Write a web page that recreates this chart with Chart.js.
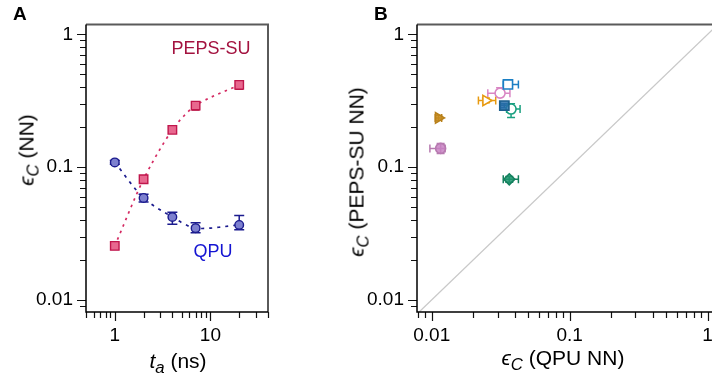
<!DOCTYPE html>
<html><head><meta charset="utf-8">
<script src="https://cdn.jsdelivr.net/npm/chart.js@4.4.0/dist/chart.umd.min.js"></script>
<style>
html,body{margin:0;padding:0;background:#fff;overflow:hidden;width:712px;height:381px;}
#wrap{position:relative;width:712px;height:381px;overflow:hidden;font-family:"Liberation Sans",Arial,Helvetica,sans-serif;}
#cA{position:absolute;left:0;top:0;}
#cB{position:absolute;left:356px;top:0;}
.t{position:absolute;white-space:nowrap;color:#000;line-height:1;}
.ttl{font-size:21px;}
.ttl sub{font-size:0.8em;vertical-align:-0.32em;line-height:0;}
.rot{transform:translate(-50%,-50%) rotate(-90deg);}
.hor{transform:translate(-50%,-50%);}
.letter{font-weight:bold;font-size:19px;}
.lab{font-size:18px;transform:translate(-50%,-50%);}
</style>
</head><body>
<div id="wrap">
<canvas id="cA" width="356" height="381"></canvas>
<canvas id="cB" width="380" height="381"></canvas>
<div class="t letter" style="left:13px;top:4px;">A</div>
<div class="t letter" style="left:374px;top:4px;">B</div>
<div class="t ttl rot" style="left:26px;top:150px;"><i>ϵ</i><sub><i>C</i></sub> (NN)</div>
<div class="t ttl hor" style="left:178px;top:360px;"><i>t</i><sub><i>a</i></sub> (ns)</div>
<div class="t ttl rot" style="left:356px;top:172px;"><i>ϵ</i><sub><i>C</i></sub> (PEPS-SU NN)</div>
<div class="t ttl hor" style="left:563px;top:357px;"><i>ϵ</i><sub><i>C</i></sub> (QPU NN)</div>
<div class="t lab" style="left:211px;top:48px;color:#a3123f;">PEPS-SU</div>
<div class="t lab" style="left:213px;top:251px;color:#1414d2;">QPU</div>
</div>
<script>
// ---------- Panel A data ----------
const durationsNs = [1, 2, 4, 7, 20];
const pepsSu = [0.0255, 0.081, 0.191, 0.291, 0.417];
const pepsSuLo = [0.0250, 0.079, 0.184, 0.270, 0.386];
const pepsSuHi = [0.0260, 0.083, 0.197, 0.300, 0.430];
const qpu = [0.1086, 0.0586, 0.0421, 0.0347, 0.0367];
const qpuLo = [0.1050, 0.0545, 0.0371, 0.0320, 0.0337];
const qpuHi = [0.1120, 0.0626, 0.0458, 0.0381, 0.0432];
const axisAXTicks = [1, 10];
const axisAXLabels = ['1', '10'];
const axisYTicks = [0.01, 0.1, 1];
const axisYLabels = ['0.01', '0.1', '1'];
// ---------- Panel B data ----------
const cmpQpu   = [0.0357, 0.0313, 0.0247, 0.0336, 0.0376, 0.0112, 0.0116, 0.0365];
const cmpQpuLo = [0.0330, 0.0255, 0.0218, 0.0315, 0.0349, 0.0106, 0.0097, 0.0330];
const cmpQpuHi = [0.0425, 0.0369, 0.0291, 0.0360, 0.0437, 0.0118, 0.0125, 0.0425];
const cmpPeps   = [0.420, 0.361, 0.318, 0.291, 0.274, 0.235, 0.1384, 0.081];
const cmpPepsLo = [0.400, 0.341, 0.305, 0.280, 0.237, 0.226, 0.1267, 0.077];
const cmpPepsHi = [0.440, 0.396, 0.332, 0.300, 0.301, 0.245, 0.1510, 0.085];
const diagonal = [0.001, 10];
const axisBXTicks = [0.01, 0.1, 1];
const axisBXLabels = ['0.01', '0.1', '1'];

// styles for panel B points
const bStyles = [
  {shape:'rect', color:'#1a7fc4', fill:'#ffffff', r:6.5},
  {shape:'circle', color:'#d986c4', fill:'#ffffff', r:5},
  {shape:'triangle', rot:90, color:'#e89a10', fill:'#ffffff', r:6},
  {shape:'rect', color:'#1d5f8e', fill:'rgba(40,110,170,0.85)', r:6.5},
  {shape:'circle', color:'#1aa080', fill:'#ffffff', r:5},
  {shape:'triangle', rot:90, color:'#b8801a', fill:'rgba(200,140,30,0.8)', r:6},
  {shape:'circle', color:'#b77ab0', fill:'rgba(200,130,195,0.85)', r:5},
  {shape:'rectRot', color:'#14805e', fill:'rgba(30,150,110,0.85)', r:5.5}
];

const FONT = {family:'"Liberation Sans", Arial, Helvetica, sans-serif', size:19};

function minorValues(min, max) {
  const out = [];
  for (let d = Math.floor(Math.log10(min)) - 1; d <= Math.ceil(Math.log10(max)) + 1; d++) {
    for (let m = 1; m <= 9; m++) {
      const v = m * Math.pow(10, d);
      if (v >= min * 0.9999 && v <= max * 1.0001) out.push({v, major: m === 1});
    }
  }
  return out;
}

const decoPlugin = {
  id: 'deco',
  beforeDatasetsDraw(chart) {
    const ctx = chart.ctx;
    const xs = chart.scales.x, ys = chart.scales.y;
    chart.data.datasets.forEach((ds, i) => {
      if (!ds.errs) return;
      const meta = chart.getDatasetMeta(i);
      ctx.save();
      ctx.strokeStyle = ds.errColor || ds.borderColor;
      ctx.lineWidth = 1.5;
      ctx.setLineDash([]);
      meta.data.forEach((pt, j) => {
        const e = ds.errs[j];
        if (!e) return;
        const cap = ds.capHalf || 4.5;
        ctx.beginPath();
        if (e.yLo != null) {
          const y1 = ys.getPixelForValue(e.yLo), y2 = ys.getPixelForValue(e.yHi);
          ctx.moveTo(pt.x, y1); ctx.lineTo(pt.x, y2);
          ctx.moveTo(pt.x - cap, y1); ctx.lineTo(pt.x + cap, y1);
          ctx.moveTo(pt.x - cap, y2); ctx.lineTo(pt.x + cap, y2);
        }
        if (e.xLo != null) {
          const x1 = xs.getPixelForValue(e.xLo), x2 = xs.getPixelForValue(e.xHi);
          ctx.moveTo(x1, pt.y); ctx.lineTo(x2, pt.y);
          ctx.moveTo(x1, pt.y - cap); ctx.lineTo(x1, pt.y + cap);
          ctx.moveTo(x2, pt.y - cap); ctx.lineTo(x2, pt.y + cap);
        }
        ctx.stroke();
      });
      ctx.restore();
    });
  },
  afterDraw(chart) {
    const ctx = chart.ctx, a = chart.chartArea;
    const xs = chart.scales.x, ys = chart.scales.y;
    ctx.save();
    ctx.setLineDash([]);
    // top & right frame
    ctx.strokeStyle = '#5a5a5a';
    ctx.lineWidth = 2;
    ctx.beginPath();
    ctx.moveTo(a.left, a.top); ctx.lineTo(a.right, a.top); ctx.lineTo(a.right, a.bottom);
    ctx.stroke();
    // ticks
    ctx.strokeStyle = '#111';
    ctx.lineWidth = 1.2;
    ctx.beginPath();
    minorValues(xs.min, xs.max).forEach(t => {
      const p = Math.round(xs.getPixelForValue(t.v)) + 0.5;
      ctx.moveTo(p, a.bottom); ctx.lineTo(p, a.bottom + (t.major ? 9 : 6));
    });
    minorValues(ys.min, ys.max).forEach(t => {
      const p = Math.round(ys.getPixelForValue(t.v)) + 0.5;
      ctx.moveTo(a.left, p); ctx.lineTo(a.left - (t.major ? 9 : 6), p);
    });
    ctx.stroke();
    // left & bottom axes
    ctx.strokeStyle = '#000';
    ctx.lineWidth = 1.5;
    ctx.beginPath();
    ctx.moveTo(a.left, a.top); ctx.lineTo(a.left, a.bottom); ctx.lineTo(a.right, a.bottom);
    ctx.stroke();
    ctx.restore();
  }
};

function logAxis(min, max, ticks, labels, isY, fitSize, pad) {
  return {
    type: 'logarithmic', min, max,
    border: {display: false},
    grid: {display: false, drawTicks: false},
    ticks: {
      font: FONT, color: '#000', padding: pad, autoSkip: false, maxRotation: 0,
      callback: (v, i) => labels[i]
    },
    afterBuildTicks: s => { s.ticks = ticks.map(v => ({value: v})); },
    afterFit: s => { if (isY) s.width = fitSize; else s.height = fitSize; }
  };
}

// ---------- Chart A ----------
new Chart(document.getElementById('cA'), {
  type: 'line',
  data: {
    datasets: [
      {
        label: 'PEPS-SU',
        data: durationsNs.map((x, i) => ({x, y: pepsSu[i]})),
        errs: durationsNs.map((x, i) => ({yLo: pepsSuLo[i], yHi: pepsSuHi[i]})),
        borderColor: '#d42a62', backgroundColor: '#e8668e', errColor: '#b3143f',
        pointBorderColor: '#c0164c', pointBackgroundColor: '#e8688f',
        borderWidth: 1.7, borderDash: [2.5, 4.5], tension: 0.3,
        pointStyle: 'rect', pointRadius: 6, pointBorderWidth: 1.4, capHalf: 4
      },
      {
        label: 'QPU',
        data: durationsNs.map((x, i) => ({x, y: qpu[i]})),
        errs: durationsNs.map((x, i) => ({yLo: qpuLo[i], yHi: qpuHi[i]})),
        borderColor: '#1b1b8e', backgroundColor: '#7d80cf',
        pointBorderColor: '#1b1b8e', pointBackgroundColor: '#7d80cf',
        borderWidth: 1.7, borderDash: [3, 5], tension: 0.3,
        pointStyle: 'circle', pointRadius: 4.3, pointBorderWidth: 1.4, capHalf: 5
      }
    ]
  },
  options: {
    responsive: false, animation: false,
    layout: {padding: {left: 0, top: 10, right: 88, bottom: 0}},
    plugins: {legend: {display: false}, tooltip: {enabled: false}},
    scales: {
      x: logAxis(0.5, 40, axisAXTicks, axisAXLabels, false, 69, 12),
      y: logAxis(0.0081, 1.19, axisYTicks, axisYLabels, true, 86, 13)
    }
  },
  plugins: [decoPlugin]
});

// ---------- Chart B ----------
const bSets = cmpQpu.map((x, i) => {
  const s = bStyles[i];
  return {
    type: 'scatter',
    data: [{x, y: cmpPeps[i]}],
    errs: [{xLo: cmpQpuLo[i], xHi: cmpQpuHi[i], yLo: cmpPepsLo[i], yHi: cmpPepsHi[i]}],
    borderColor: s.color, backgroundColor: s.fill,
    pointStyle: s.shape, rotation: s.rot || 0, pointRadius: s.r, pointBorderWidth: 1.6,
    capHalf: 4
  };
});
bSets.unshift({
  type: 'line',
  data: diagonal.map(v => ({x: v, y: v})),
  borderColor: '#c9c9c9', borderWidth: 1.3, pointRadius: 0, tension: 0
});
new Chart(document.getElementById('cB'), {
  type: 'scatter',
  data: {datasets: bSets},
  options: {
    responsive: false, animation: false,
    layout: {padding: {left: 0, top: 10, right: 18, bottom: 0}},
    plugins: {legend: {display: false}, tooltip: {enabled: false}},
    scales: {
      x: logAxis(0.00782, 1.19, axisBXTicks, axisBXLabels, false, 69, 12),
      y: logAxis(0.0081, 1.19, axisYTicks, axisYLabels, true, 61, 13)
    }
  },
  plugins: [decoPlugin]
});
</script>
</body></html>
